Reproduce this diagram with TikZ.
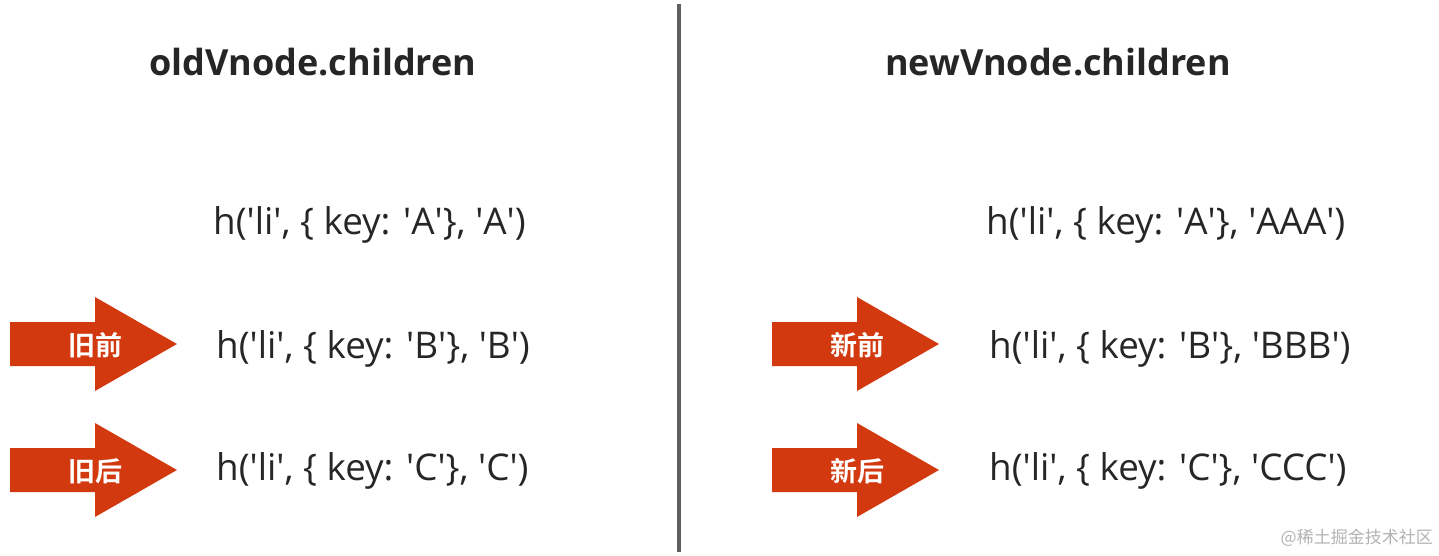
\documentclass[tikz,border=0pt]{standalone}
\usepackage{fontspec}
\setmainfont{Open Sans}
\newfontfamily\cjk{Noto Sans CJK SC}
\newfontfamily\cjkbold{Noto Sans CJK SC Bold}
\definecolor{arrowred}{HTML}{D2390F}
\definecolor{txt}{HTML}{262626}
\definecolor{divider}{HTML}{5F5F5F}
\newcommand\sq{\textquotesingle}
\newcommand\hvarrow[4]{%
  \fill[arrowred] (#1,#2+22) -- (#1+85,#2+22) -- (#1+85,#2+47) -- (#1+167,#2) -- (#1+85,#2-47) -- (#1+85,#2-22) -- (#1,#2-22) -- cycle;
  \node[tag] (#4) at (#1+85,#2-1) {#3};}
\begin{document}
\begin{tikzpicture}[x=1pt,y=1pt,
  title/.style={font=\fontsize{36}{42}\selectfont\bfseries, text=txt, inner sep=0pt},
  code/.style={font=\fontsize{36.8}{44}\selectfont, text=txt, inner sep=0pt, anchor=west},
  tag/.style={font=\fontsize{27}{31}\cjkbold, text=white, inner sep=0pt}]
\useasboundingbox (0,0) rectangle (1439,-556);
\draw[divider, line width=3.5pt] (679,-4) -- (679,-552);
\node[title] (oldt) at (313,-62) {oldVnode.children};
\node[title] (newt) at (1058,-62) {newVnode.children};
\node[code] (oa) at (213,-225) {h(\sq li\sq, \{ key: \sq A\sq\}, \sq A\sq)};
\node[code] (ob) at (216,-349) {h(\sq li\sq, \{ key: \sq B\sq\}, \sq B\sq)};
\node[code] (oc) at (216,-471) {h(\sq li\sq, \{ key: \sq C\sq\}, \sq C\sq)};
\node[code] (na) at (986,-225) {h(\sq li\sq, \{ key: \sq A\sq\}, \sq AAA\sq)};
\node[code] (nb) at (989,-349) {h(\sq li\sq, \{ key: \sq B\sq\}, \sq BBB\sq)};
\node[code] (nc) at (989,-471) {h(\sq li\sq, \{ key: \sq C\sq\}, \sq CCC\sq)};
\hvarrow{10}{-344}{旧前}{a1}
\hvarrow{10}{-470}{旧后}{a2}
\hvarrow{772}{-344}{新前}{a3}
\hvarrow{772}{-470}{新后}{a4}
\node[font=\fontsize{17}{20}\cjk, text=black!30, anchor=east, inner sep=0pt] (wm) at (1433,-538) {@稀土掘金技术社区};
\end{tikzpicture}
\end{document}
